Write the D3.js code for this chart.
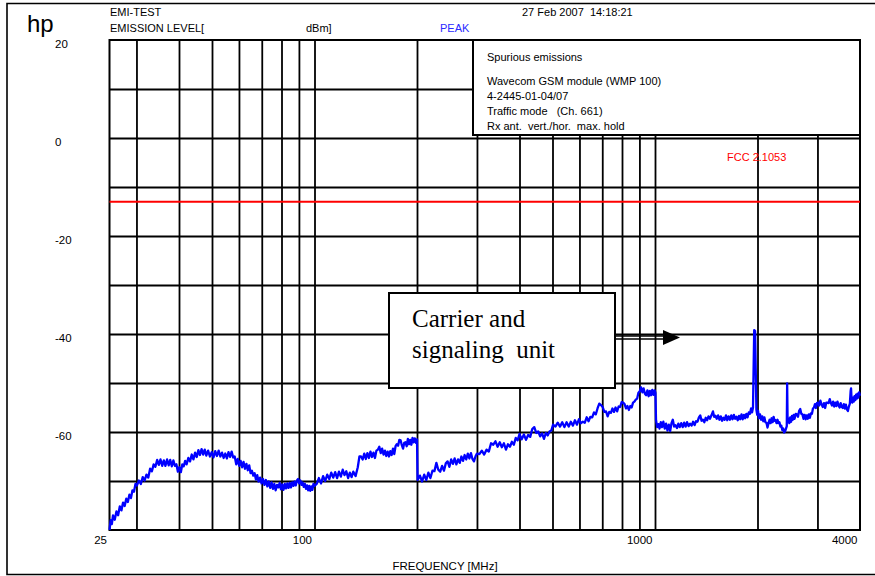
<!DOCTYPE html>
<html>
<head>
<meta charset="utf-8">
<script src="https://cdn.jsdelivr.net/npm/d3@7"></script>
<style>
  body { margin: 0; background: #fff; }
  svg { display: block; font-family: "Liberation Sans", Arial, sans-serif; }
</style>
</head>
<body>
<div id="chart"></div>
<script>
// ---- data (frequency MHz, level dBm) ----
var band1 = [[25.0,-80.0],[25.2,-78.0],[25.4,-78.8],[25.6,-77.0],[25.9,-77.9],[26.2,-76.2],[26.5,-77.0],[26.8,-75.2],[27.1,-76.0],[27.4,-74.4],[27.7,-75.1],[28.0,-73.6],[28.3,-74.3],[28.6,-72.8],[28.9,-73.5],[29.2,-71.9],[29.5,-72.2],[29.8,-70.6],[30.1,-70.9],[30.5,-69.9],[30.9,-70.6],[31.3,-69.2],[31.7,-69.9],[32.1,-68.7],[32.5,-69.3],[32.9,-67.5],[33.3,-68.0],[33.7,-66.6],[34.1,-67.1],[34.5,-65.7],[34.9,-66.7],[35.3,-65.6],[35.7,-66.9],[36.1,-65.8],[36.5,-66.9],[36.9,-65.6],[37.3,-66.8],[37.7,-65.7],[38.1,-67.0],[38.5,-65.8],[38.9,-66.9],[39.3,-66.6],[39.7,-68.1],[40.1,-67.2],[40.5,-68.2],[40.9,-66.6],[41.3,-67.0],[41.7,-65.9],[42.1,-66.6],[42.6,-65.3],[43.1,-66.0],[43.6,-64.6],[44.1,-65.6],[44.6,-64.2],[45.1,-65.1],[45.6,-63.7],[46.1,-64.7],[46.6,-63.5],[47.1,-64.6],[47.6,-63.6],[48.1,-64.8],[48.7,-63.8],[49.3,-65.0],[49.9,-64.1],[50.5,-65.2],[51.1,-63.9],[51.7,-64.9],[52.3,-63.8],[52.9,-65.0],[53.5,-64.2],[54.1,-65.3],[54.7,-64.4],[55.3,-65.4],[55.9,-64.1],[56.5,-65.1],[57.1,-64.0],[57.7,-65.2],[58.3,-65.0],[58.9,-66.6],[59.5,-65.5],[60.1,-66.9],[60.7,-65.9],[61.3,-67.2],[61.9,-66.1],[62.5,-67.5],[63.1,-66.5],[63.7,-67.8],[64.3,-66.8],[64.9,-68.4],[65.5,-67.9],[66.1,-68.9],[66.7,-68.4],[67.3,-69.7],[67.9,-68.8],[68.5,-70.1],[69.2,-69.3],[69.9,-70.5],[70.6,-69.6],[71.3,-70.8],[72.0,-69.8],[72.7,-71.1],[73.4,-70.1],[74.1,-71.4],[74.8,-70.3],[75.5,-71.6],[76.2,-70.6],[76.9,-71.9],[77.6,-70.8],[78.3,-71.3],[79.0,-70.4],[79.7,-71.7],[80.4,-70.7],[81.1,-71.8],[81.8,-70.6],[82.5,-71.5],[83.2,-70.5],[83.9,-71.4],[84.6,-70.4],[85.3,-71.3],[86.0,-70.3],[86.7,-71.0],[87.4,-70.1],[88.1,-70.9],[88.8,-69.9],[89.5,-69.6],[90.2,-70.5],[90.9,-69.9],[91.6,-70.8],[92.3,-70.3],[93.0,-71.2],[93.7,-70.6],[94.4,-71.6],[95.1,-70.9],[95.8,-71.9],[96.5,-71.0],[97.2,-72.0],[97.9,-71.1],[98.6,-71.8],[99.3,-70.6],[100.0,-71.0]];

var band2 = [[101.5,-70.6],[103,-69.4],[104.5,-70.5],[106,-69.0],[107.5,-70.0],[109,-68.7],[110.5,-69.6],[112,-68.3],[113.5,-69.3],[115,-68.2],[116.5,-69.4],[118,-68.1],[119.5,-69.1],[121,-67.7],[122.5,-68.8],[124,-68.0],[125.5,-69.4],[127,-68.3],[128.5,-69.2],[130,-68.1],[132,-69.0],[134,-67.2],[135.5,-65.0],[137,-65.0],[138.5,-65.6],[140,-64.4],[141.5,-65.5],[143,-64.3],[144.5,-65.3],[146,-64.0],[147.5,-65.1],[149,-64.2],[150.5,-65.3],[152,-63.8],[153.5,-63.6],[155,-63.0],[156.5,-64.3],[158,-63.4],[159.5,-64.6],[161,-63.8],[162.5,-64.9],[164,-64.0],[165.5,-65.0],[167,-63.9],[168.5,-64.7],[170,-63.4],[171.5,-64.5],[173,-62.9],[174.5,-62.5],[176,-62.8],[177.5,-61.6],[179,-61.7],[180.5,-62.7],[182,-63.4],[183.5,-62.2],[185,-62.1],[186.5,-62.9],[188,-61.4],[189.5,-62.5],[191,-61.6],[192.5,-62.6],[194,-61.2],[195.5,-62.1],[197,-61.3],[198.5,-62.2],[200,-61.5]];

var band3 = [[200.8,-69.8],[204,-68.9],[207,-70.1],[210,-68.7],[213,-69.8],[216,-68.3],[219,-69.4],[222,-67.9],[225,-68.0],[228,-66.3],[231,-67.7],[234,-68.1],[237,-66.9],[240,-67.9],[243,-66.4],[246,-66.0],[249,-67.1],[252,-65.6],[255,-66.5],[258,-65.4],[261,-66.6],[264,-65.6],[267,-66.3],[270,-65.0],[273,-65.9],[276,-64.7],[279,-65.6],[282,-64.4],[285,-65.4],[288,-64.3],[291,-65.5],[294,-66.0],[297,-65.0],[300,-64.4],[305,-64.5],[310,-63.8],[315,-64.6],[320,-63.6],[325,-64.0],[330,-62.3],[335,-62.6],[340,-61.9],[345,-63.0],[350,-62.1],[355,-63.1],[360,-62.3],[365,-63.6],[370,-62.5],[375,-63.0],[380,-62.0],[385,-62.6],[390,-61.2],[395,-61.7],[400,-60.4],[406,-61.5],[412,-60.5],[418,-61.6],[424,-60.6],[430,-61.0],[436,-59.4],[442,-59.0],[448,-60.2],[454,-59.9],[460,-60.9],[466,-60.3],[472,-61.4],[478,-60.2],[484,-60.7],[490,-59.9],[496,-59.7],[502,-58.5],[510,-58.9],[518,-58.1],[526,-58.9],[534,-58.0],[542,-59.0],[550,-58.0],[558,-58.9],[566,-57.9],[574,-58.7],[582,-57.6],[590,-58.5],[598,-57.4],[606,-58.2],[614,-57.9],[622,-58.1],[630,-57.0],[638,-57.8],[646,-56.9],[654,-57.0],[662,-56.0],[670,-56.4],[678,-55.2],[686,-54.2],[694,-54.5],[702,-54.9],[710,-55.9],[718,-55.8],[726,-56.8],[734,-55.9],[742,-56.1],[750,-55.2],[758,-55.9],[766,-55.0],[774,-55.8],[782,-54.8],[790,-54.9],[798,-53.9],[806,-54.0],[814,-54.3],[822,-55.2],[830,-54.7],[838,-55.5],[846,-54.7],[854,-55.0],[862,-54.0],[870,-53.8],[878,-53.4],[886,-53.2],[894,-52.0],[902,-51.7],[910,-50.9],[918,-51.9],[926,-51.1],[934,-52.2],[942,-52.5],[950,-51.5],[958,-52.7],[966,-51.6],[974,-52.5],[982,-51.4],[990,-52.4],[998,-51.5],[1003,-52.0]];

var band4 = [[1007,-57.6],[1015,-59.0],[1023,-58.4],[1031,-59.3],[1040,-58.0],[1049,-59.0],[1058,-57.9],[1068,-59.3],[1078,-58.3],[1088,-59.7],[1098,-58.5],[1108,-59.8],[1118,-58.2],[1128,-57.5],[1138,-58.9],[1148,-58.6],[1160,-59.2],[1171,-58.3],[1182,-59.0],[1194,-58.2],[1206,-59.0],[1218,-58.1],[1230,-58.9],[1242,-58.0],[1255,-58.8],[1268,-58.3],[1281,-58.7],[1294,-57.9],[1307,-58.6],[1320,-57.8],[1333,-57.9],[1346,-57.0],[1358,-56.6],[1370,-57.7],[1383,-57.5],[1396,-58.0],[1409,-57.1],[1422,-57.6],[1436,-56.8],[1450,-57.3],[1465,-56.6],[1480,-55.8],[1492,-56.9],[1505,-56.7],[1518,-57.3],[1532,-56.6],[1546,-57.5],[1560,-56.8],[1574,-57.7],[1588,-57.1],[1602,-57.5],[1616,-56.6],[1630,-57.6],[1645,-56.8],[1660,-57.5],[1675,-56.6],[1690,-57.4],[1705,-56.5],[1720,-57.3],[1735,-56.9],[1750,-57.6],[1765,-56.7],[1780,-57.4],[1795,-56.4],[1810,-57.4],[1825,-56.5],[1840,-57.2],[1855,-56.3],[1870,-57.0],[1885,-56.0],[1900,-56.3],[1915,-55.2],[1928,-56.0],[1940,-55.0],[1950,-45.0],[1956,-39.2],[1968,-39.4],[1976,-47.0],[1985,-55.4],[1996,-56.5],[2008,-55.7],[2020,-57.2],[2035,-56.4],[2050,-57.5],[2065,-56.8],[2080,-57.8],[2095,-57.0],[2110,-58.0],[2125,-58.1],[2140,-59.1],[2155,-58.2],[2170,-57.5],[2185,-58.2],[2200,-57.2],[2215,-58.0],[2230,-56.9],[2245,-57.7],[2260,-57.6],[2275,-58.2],[2290,-57.5],[2305,-58.2],[2320,-58.0],[2335,-58.9],[2350,-58.7],[2365,-59.6],[2380,-59.3],[2395,-60.1],[2410,-59.9],[2425,-59.3],[2438,-58.8],[2444,-50.1],[2452,-57.9],[2465,-57.2],[2480,-58.2],[2495,-57.0],[2510,-57.9],[2525,-56.7],[2540,-57.5],[2555,-56.5],[2570,-57.3],[2590,-56.3],[2610,-56.4],[2630,-56.9],[2650,-55.7],[2670,-55.3],[2690,-56.3],[2710,-56.4],[2730,-57.3],[2750,-56.5],[2770,-57.4],[2790,-56.6],[2810,-57.3],[2830,-56.4],[2850,-57.1],[2870,-56.2],[2890,-56.3],[2910,-55.2],[2930,-55.0],[2950,-54.3],[2970,-55.1],[2990,-54.1],[3010,-54.0],[3035,-54.6],[3060,-53.6],[3085,-54.4],[3110,-54.9],[3135,-54.1],[3160,-55.1],[3185,-54.0],[3210,-54.0],[3235,-54.1],[3260,-53.3],[3285,-54.1],[3310,-54.6],[3335,-53.8],[3360,-54.8],[3385,-54.0],[3410,-54.7],[3435,-53.8],[3460,-54.6],[3485,-55.0],[3510,-54.1],[3535,-54.9],[3560,-55.1],[3585,-54.3],[3610,-55.2],[3635,-54.4],[3660,-55.4],[3685,-55.7],[3710,-54.8],[3735,-54.2],[3755,-51.6],[3765,-51.1],[3778,-53.3],[3795,-54.0],[3815,-53.0],[3835,-53.8],[3855,-52.7],[3875,-53.5],[3895,-52.4],[3915,-53.2],[3935,-52.2],[3955,-53.0],[3975,-51.9],[4000,-52.6]];

var fccLimit = -13;
var gridFreqs = [30, 40, 50, 60, 70, 80, 90, 100, 200, 300, 400, 500, 600, 700, 800, 900, 1000, 2000, 3000];
var freqLabels = [25, 100, 1000, 4000];
var gridLevels = [10, 0, -10, -20, -30, -40, -50, -60, -70];
var levelLabels = [20, 0, -20, -40, -60];
var infoLines = ["Spurious emissions", "Wavecom GSM module (WMP 100)", "4-2445-01-04/07", "Traffic mode   (Ch. 661)", "Rx ant.  vert./hor.  max. hold"];

var svgWidth = 875, svgHeight = 576;
var margin = { top: 40, right: 15, bottom: 46, left: 109.5 };
var width = svgWidth - margin.left - margin.right;
var height = svgHeight - margin.top - margin.bottom;

var svg = d3.select("#chart").append("svg")
    .attr("width", svgWidth)
    .attr("height", svgHeight);

// page frame
svg.append("path")
    .attr("d", "M875,3.5 H7 V574.5 H875")
    .attr("fill", "none")
    .attr("stroke", "#000")
    .attr("stroke-width", 1.6);

// header texts
svg.append("text").attr("x", 27).attr("y", 32).style("font-size", "24px").text("hp");
svg.append("text").attr("x", 110).attr("y", 16).style("font-size", "11px").text("EMI-TEST");
svg.append("text").attr("x", 110).attr("y", 32).style("font-size", "11px").text("EMISSION LEVEL[");
svg.append("text").attr("x", 306).attr("y", 32).style("font-size", "11px").text("dBm]");
svg.append("text").attr("x", 440).attr("y", 32).style("font-size", "11px").attr("fill", "#2a2aff").text("PEAK");
svg.append("text").attr("x", 522).attr("y", 16).style("font-size", "11px").style("white-space", "pre").text("27 Feb 2007  14:18:21");

var chartGroup = svg.append("g")
    .attr("transform", `translate(${margin.left}, ${margin.top})`);

// scales
var xLogScale = d3.scaleLog().domain([25, 4000]).range([0, width]);
var yLinearScale = d3.scaleLinear().domain([-80, 20]).range([height, 0]);

// grid
chartGroup.append("g")
    .attr("class", "x-grid")
    .attr("transform", `translate(0, ${height})`)
    .call(d3.axisBottom(xLogScale).tickValues(gridFreqs).tickSize(-height).tickFormat(""))
    .call(g => g.select(".domain").remove());

chartGroup.append("g")
    .attr("class", "y-grid")
    .call(d3.axisLeft(yLinearScale).tickValues(gridLevels).tickSize(-width).tickFormat(""))
    .call(g => g.select(".domain").remove());

chartGroup.selectAll(".x-grid line, .y-grid line")
    .attr("stroke", "#000")
    .attr("stroke-width", 1.8);

chartGroup.append("rect")
    .attr("width", width)
    .attr("height", height)
    .attr("fill", "none")
    .attr("stroke", "#000")
    .attr("stroke-width", 2);

// axis labels
var xLabels = chartGroup.append("g")
    .attr("transform", `translate(0, ${height})`)
    .call(d3.axisBottom(xLogScale).tickValues(freqLabels).tickSize(0).tickFormat(d => String(d)));
xLabels.select(".domain").remove();
xLabels.selectAll("text")
    .attr("text-anchor", "end")
    .attr("dx", -3)
    .attr("y", 6)
    .style("font-size", "11.5px")
    .style("font-family", "'Liberation Sans', Arial, sans-serif")
    .attr("fill", "#000");

var yLabels = chartGroup.append("g")
    .call(d3.axisLeft(yLinearScale).tickValues(levelLabels).tickSize(0).tickFormat(d => String(d)));
yLabels.select(".domain").remove();
yLabels.selectAll("text")
    .attr("text-anchor", "start")
    .attr("x", 55 - margin.left)
    .attr("dy", "0.75em")
    .attr("y", -1)
    .style("font-size", "11.5px")
    .style("font-family", "'Liberation Sans', Arial, sans-serif")
    .attr("fill", "#000");

svg.append("text")
    .attr("x", 445).attr("y", 570)
    .attr("text-anchor", "middle")
    .style("font-size", "11.5px")
    .text("FREQUENCY [MHz]");

// info box
var infoBox = chartGroup.append("g")
    .attr("transform", `translate(${473 - margin.left}, 0)`);
infoBox.append("rect")
    .attr("width", 860 - 473)
    .attr("height", 95)
    .attr("fill", "#fff")
    .attr("stroke", "#000")
    .attr("stroke-width", 2);
infoBox.selectAll("text")
    .data(infoLines)
    .enter()
    .append("text")
    .attr("x", 14)
    .attr("y", (d, i) => i === 0 ? 21 : 30 + i * 15)
    .style("font-size", "11px")
    .style("white-space", "pre")
    .text(d => d);

// FCC limit
chartGroup.append("line")
    .attr("x1", 0).attr("x2", width)
    .attr("y1", yLinearScale(fccLimit)).attr("y2", yLinearScale(fccLimit))
    .attr("stroke", "#ff0000")
    .attr("stroke-width", 2);
svg.append("text")
    .attr("x", 727).attr("y", 161)
    .attr("fill", "#ff0000")
    .style("font-size", "11px")
    .text("FCC 2.1053");

// trace
var trace = band1.concat(band2, band3, band4);
var traceLine = d3.line()
    .x(d => xLogScale(d[0]))
    .y(d => yLinearScale(d[1]));
chartGroup.append("path")
    .datum(trace)
    .attr("d", traceLine)
    .attr("fill", "none")
    .attr("stroke", "#0000ff")
    .attr("stroke-width", 2.3)
    .attr("stroke-linejoin", "round");

// annotation
var note = svg.append("g");
note.append("rect")
    .attr("x", 389).attr("y", 293)
    .attr("width", 226).attr("height", 95)
    .attr("fill", "#fff")
    .attr("stroke", "#000")
    .attr("stroke-width", 2);
note.append("text")
    .attr("x", 412).attr("y", 327)
    .style("font-family", "'Liberation Serif', 'Times New Roman', serif")
    .style("font-size", "25px")
    .text("Carrier and");
note.append("text")
    .attr("x", 412).attr("y", 358)
    .style("font-family", "'Liberation Serif', 'Times New Roman', serif")
    .style("font-size", "25px")
    .style("white-space", "pre")
    .text("signaling  unit");
note.append("line")
    .attr("x1", 615).attr("x2", 665).attr("y1", 336).attr("y2", 336)
    .attr("stroke", "#000").attr("stroke-width", 1.3);
note.append("line")
    .attr("x1", 615).attr("x2", 665).attr("y1", 339).attr("y2", 339)
    .attr("stroke", "#000").attr("stroke-width", 1.3);
note.append("path")
    .attr("d", "M663,330 L680,337.5 L663,345 Z")
    .attr("fill", "#000");
</script>
</body>
</html>
